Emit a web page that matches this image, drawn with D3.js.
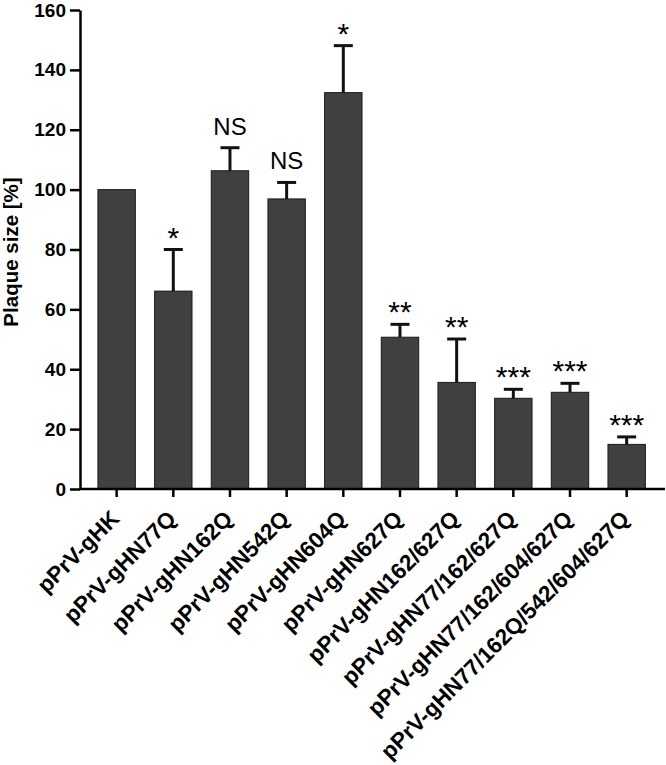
<!DOCTYPE html>
<html>
<head>
<meta charset="utf-8">
<script src="https://cdn.jsdelivr.net/npm/d3@7/dist/d3.min.js"></script>
<style>
  html, body { margin: 0; padding: 0; background: #fff; }
  svg { display: block; }
  text { font-family: "Liberation Sans", Arial, Helvetica, sans-serif; fill: #000; }
</style>
</head>
<body>
<svg id="chart" width="666" height="765"></svg>
<script>
const categories = [
  "pPrV-gHK",
  "pPrV-gHN77Q",
  "pPrV-gHN162Q",
  "pPrV-gHN542Q",
  "pPrV-gHN604Q",
  "pPrV-gHN627Q",
  "pPrV-gHN162/627Q",
  "pPrV-gHN77/162/627Q",
  "pPrV-gHN77/162/604/627Q",
  "pPrV-gHN77/162Q/542/604/627Q"
];
const values = [100, 66.1, 106.3, 96.9, 132.4, 50.7, 35.6, 30.3, 32.3, 14.9];
const errors = [0, 13.9, 7.7, 5.5, 15.7, 4.3, 14.5, 3.0, 3.0, 2.5];
const significance = ["", "*", "NS", "NS", "*", "**", "**", "***", "***", "***"];
const yTicks = [0, 20, 40, 60, 80, 100, 120, 140, 160];
const yLabel = "Plaque size [%]";

const svg = d3.select("#chart");

const x = d3.scaleBand()
  .domain(categories)
  .range([88.3, 655])
  .paddingInner(0.34)
  .paddingOuter(0.17);

const y = d3.scaleLinear()
  .domain([0, 160])
  .range([489, 10]);

const axisX0 = 80;

// Bars
svg.append("g")
  .selectAll("rect")
  .data(categories)
  .join("rect")
  .attr("x", d => x(d))
  .attr("y", (d, i) => y(values[i]))
  .attr("width", x.bandwidth())
  .attr("height", (d, i) => y(0) - y(values[i]))
  .attr("fill", "#404040")
  .attr("stroke", "#1a1a1a")
  .attr("stroke-width", 1);

// Error bars (upper only)
const eb = svg.append("g").attr("stroke", "#111").attr("stroke-width", 3).attr("fill", "none");
categories.forEach((c, i) => {
  if (!errors[i]) return;
  const cx = x(c) + x.bandwidth() / 2;
  eb.append("line")
    .attr("x1", cx).attr("x2", cx)
    .attr("y1", y(values[i])).attr("y2", y(values[i] + errors[i]));
  eb.append("line")
    .attr("x1", cx - 9.5).attr("x2", cx + 9.5)
    .attr("y1", y(values[i] + errors[i])).attr("y2", y(values[i] + errors[i]));
});

// Significance labels
svg.append("g")
  .selectAll("text")
  .data(categories)
  .join("text")
  .attr("x", d => x(d) + x.bandwidth() / 2)
  .attr("y", (d, i) => {
    const top = y(values[i] + errors[i]);
    return significance[i] === "NS" ? top - 13 : top - 2;
  })
  .attr("text-anchor", "middle")
  .style("font-size", (d, i) => significance[i] === "NS" ? "24px" : "30px")
  .text((d, i) => significance[i]);

// Y axis
const yAxis = svg.append("g")
  .attr("transform", `translate(${axisX0},0)`)
  .call(d3.axisLeft(y).tickValues(yTicks).tickSize(10).tickSizeOuter(0).tickPadding(4));
yAxis.select(".domain").attr("stroke", "#000").attr("stroke-width", 2.5);
yAxis.selectAll(".tick line").attr("stroke", "#000").attr("stroke-width", 2.5);
yAxis.selectAll(".tick text")
  .style("font-size", "19px")
  .style("font-weight", "bold")
  .style("font-family", "'Liberation Sans', Arial, sans-serif")
  .attr("fill", "#000");

// X axis
const xAxis = svg.append("g")
  .attr("transform", `translate(0,${y(0)})`)
  .call(d3.axisBottom(x).tickSize(8).tickSizeOuter(0).tickFormat(""));
xAxis.select(".domain").remove();
xAxis.selectAll(".tick line").attr("stroke", "#000").attr("stroke-width", 2.5);
svg.append("line")
  .attr("x1", axisX0 - 1).attr("x2", 665)
  .attr("y1", y(0)).attr("y2", y(0))
  .attr("stroke", "#000").attr("stroke-width", 2.5);

// X labels rotated
svg.append("g")
  .selectAll("text")
  .data(categories)
  .join("text")
  .attr("transform", d => `translate(${x(d) + x.bandwidth() / 2 + 4},${y(0) + 31}) rotate(-45)`)
  .attr("text-anchor", "end")
  .style("font-size", "22.5px")
  .style("font-weight", "bold")
  .text(d => d);

// Y label
svg.append("text")
  .attr("transform", `translate(18,252) rotate(-90)`)
  .attr("text-anchor", "middle")
  .style("font-size", "20.5px")
  .style("font-weight", "bold")
  .text(yLabel);
</script>
</body>
</html>
